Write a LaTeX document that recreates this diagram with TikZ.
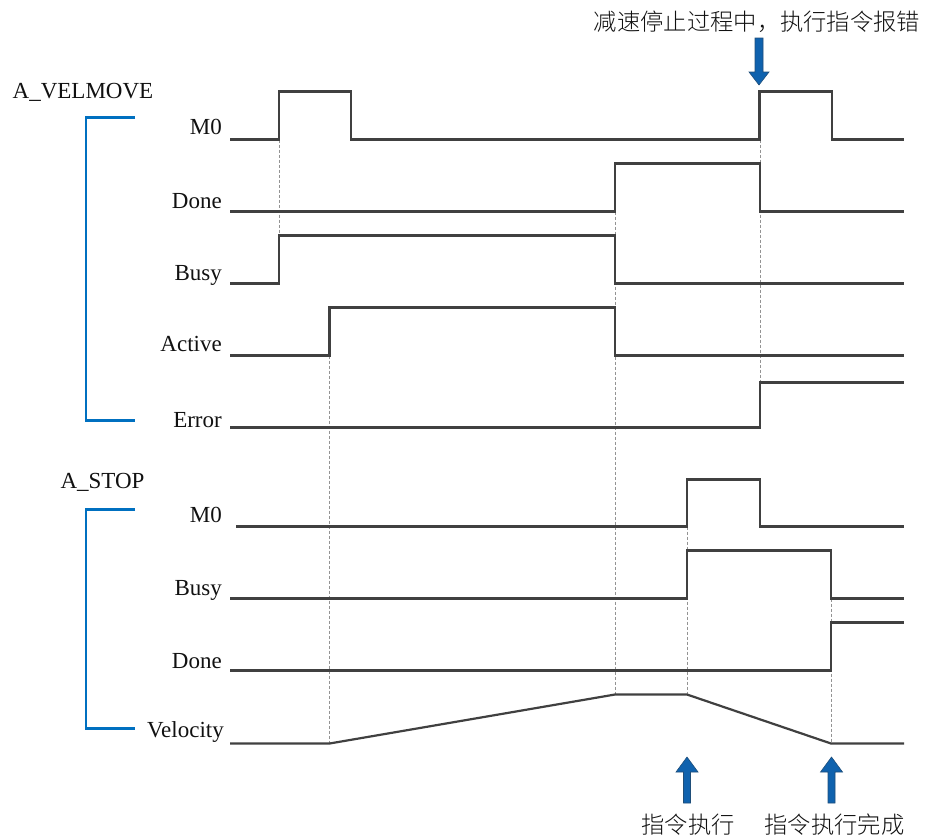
\documentclass[tikz,border=0pt]{standalone}
\usepackage{fontspec}
\setmainfont{Liberation Serif}
\newfontfamily\cjk{Noto Sans CJK SC}[UprightFont={* Light}]
\definecolor{sigcol}{HTML}{404040}
\definecolor{brkblue}{HTML}{0070C0}
\definecolor{arrfill}{HTML}{0F62AE}
\definecolor{arrdraw}{HTML}{1F4E79}
\definecolor{txtcol}{HTML}{111111}
\begin{document}
\begin{tikzpicture}[x=1pt,y=-1pt,
  sig/.style={draw=sigcol, line width=2.2pt, line join=miter},
  guide/.style={draw=gray!85, line width=0.8pt, dash pattern=on 3pt off 2pt},
  brk/.style={draw=brkblue, line width=2.4pt},
  lbl/.style={anchor=base east, font=\fontsize{23}{23}\selectfont, inner sep=0pt, text=txtcol},
  grp/.style={anchor=base, font=\fontsize{23}{23}\selectfont, inner sep=0pt, text=txtcol},
  cjktxt/.style={font=\cjk\fontsize{23.3}{24}\selectfont, inner sep=0pt, text=txtcol},
  blockarrow/.style={fill=arrfill, draw=arrdraw, line width=0.6pt}]
\useasboundingbox (0,0) rectangle (925,838);

% guide lines
\draw[guide] (279,139.5) -- (279,235.5);
\draw[guide] (329.5,355.5) -- (329.5,743.5);
\draw[guide] (615,211.5) -- (615,694.5);
\draw[guide] (687,526.5) -- (687,694.5);
\draw[guide] (760,139.5) -- (760,382.5);
\draw[guide] (831,598.5) -- (831,743.5);

% group labels and brackets
\node[grp] (gvel) at (83,98) {A\_VELMOVE};
\node[grp] (gstop) at (102.5,488) {A\_STOP};
\draw[brk] (135,117.5) -- (86,117.5) -- (86,420.5) -- (135,420.5);
\draw[brk] (135,509.5) -- (86,509.5) -- (86,728.5) -- (135,728.5);

% A_VELMOVE signals
\node[lbl] (lm0) at (222,134.5) {M0};
\draw[sig] (230,139.5) -- (279,139.5) -- (279,91.5) -- (351,91.5) -- (351,139.5) -- (759.5,139.5) -- (759.5,91.5) -- (832,91.5) -- (832,139.5) -- (904,139.5);
\node[lbl] (ldone) at (222,208) {Done};
\draw[sig] (230,211.5) -- (615,211.5) -- (615,163.5) -- (760,163.5) -- (760,211.5) -- (904,211.5);
\node[lbl] (lbusy) at (222,280) {Busy};
\draw[sig] (230,283.5) -- (279,283.5) -- (279,235.5) -- (615,235.5) -- (615,283.5) -- (904,283.5);
\node[lbl] (lact) at (222,351.5) {Active};
\draw[sig] (230,355.5) -- (329.5,355.5) -- (329.5,307.5) -- (615,307.5) -- (615,355.5) -- (904,355.5);
\node[lbl] (lerr) at (222,427.5) {Error};
\draw[sig] (230,427.5) -- (760,427.5) -- (760,382.5) -- (904,382.5);

% A_STOP signals
\node[lbl] (sm0) at (222,522.5) {M0};
\draw[sig] (236,526.5) -- (687,526.5) -- (687,479.5) -- (760,479.5) -- (760,526.5) -- (904,526.5);
\node[lbl] (sbusy) at (222,595) {Busy};
\draw[sig] (230,598.5) -- (687,598.5) -- (687,550.5) -- (831,550.5) -- (831,598.5) -- (904,598.5);
\node[lbl] (sdone) at (222,668) {Done};
\draw[sig] (230,670.5) -- (831,670.5) -- (831,622.5) -- (904,622.5);
\node[lbl] (svel) at (224,737) {Velocity};
\draw[sig] (230,743.5) -- (329.5,743.5) -- (615,694.5) -- (687,694.5) -- (831,743.5) -- (904,743.5);

% annotations
\node[cjktxt] (terr) at (757,22) {减速停止过程中，执行指令报错};
\draw[blockarrow] (755,38) -- (763,38) -- (763,72) -- (769,72) -- (759,85) -- (749,72) -- (755,72) -- cycle;

\draw[blockarrow] (683.5,803) -- (690.5,803) -- (690.5,772) -- (698,772) -- (687,757) -- (676,772) -- (683.5,772) -- cycle;
\draw[blockarrow] (828,803) -- (835,803) -- (835,772) -- (842.5,772) -- (831.5,757) -- (820.5,772) -- (828,772) -- cycle;
\node[cjktxt] (texe) at (688,825) {指令执行};
\node[cjktxt] (tdone) at (834.5,825) {指令执行完成};
\end{tikzpicture}
\end{document}
